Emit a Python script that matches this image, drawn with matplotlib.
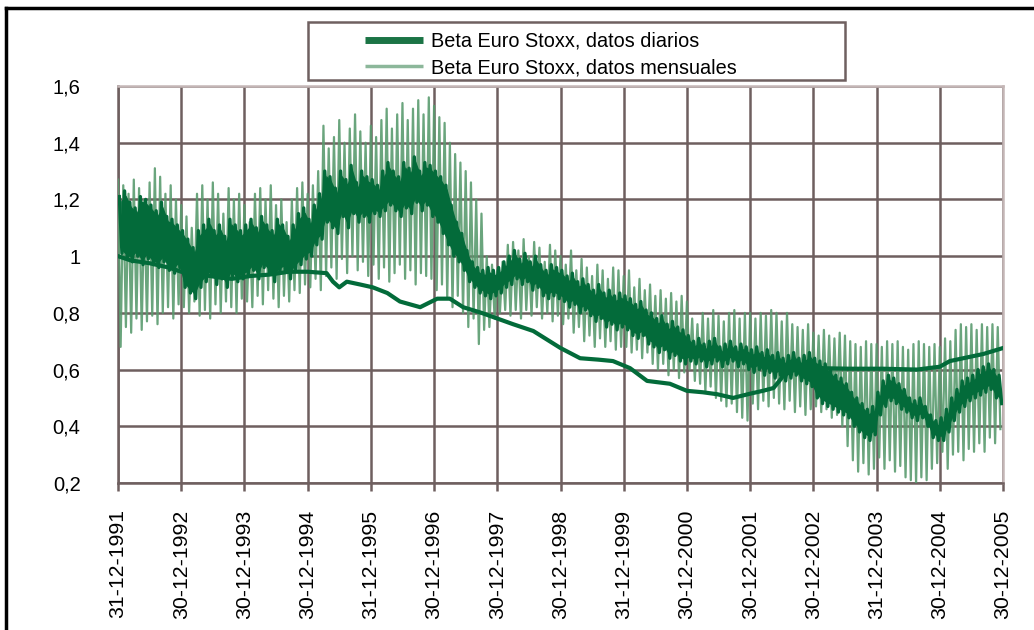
import numpy as np
import matplotlib
matplotlib.use("Agg")
import matplotlib.pyplot as plt
from matplotlib.patches import Rectangle
from matplotlib.lines import Line2D

plt.rcParams['font.family'] = ['Liberation Sans', 'DejaVu Sans']

# ---------------- data ----------------
years = list(range(1992, 2006))
tick_pos = list(range(1992, 2007))
tick_labels = ["31-12-1991", "30-12-1992", "30-12-1993", "30-12-1994", "31-12-1995",
               "30-12-1996", "30-12-1997", "30-12-1998", "31-12-1999", "30-12-2000",
               "30-12-2001", "30-12-2002", "31-12-2003", "30-12-2004", "30-12-2005"]
y_ticks = [0.2, 0.4, 0.6, 0.8, 1.0, 1.2, 1.4, 1.6]
y_labels = ["0,2", "0,4", "0,6", "0,8", "1", "1,2", "1,4", "1,6"]

# monthly beta: upper and lower swings of the oscillating monthly series (one row per year)
monthly_high = [
    [1.27, 1.25, 1.22, 1.27, 1.24, 1.20, 1.26, 1.31, 1.28, 1.22, 1.25, 1.20],
    [1.18, 1.14, 1.10, 1.22, 1.25, 1.20, 1.26, 1.22, 1.15, 1.24, 1.20, 1.22],
    [1.18, 1.12, 1.22, 1.24, 1.20, 1.25, 1.18, 1.20, 1.12, 1.20, 1.24, 1.26],
    [1.22, 1.25, 1.30, 1.46, 1.38, 1.42, 1.48, 1.40, 1.45, 1.50, 1.44, 1.40],
    [1.46, 1.42, 1.48, 1.52, 1.45, 1.50, 1.54, 1.48, 1.52, 1.55, 1.50, 1.56],
    [1.53, 1.49, 1.47, 1.40, 1.36, 1.33, 1.30, 1.26, 1.20, 1.15, 1.00, 0.97],
    [0.95, 0.98, 1.04, 1.05, 1.02, 1.06, 1.00, 1.05, 1.03, 0.98, 1.04, 1.02],
    [1.00, 0.97, 1.02, 0.95, 0.99, 0.96, 0.93, 0.97, 0.95, 0.92, 0.96, 0.95],
    [0.93, 0.95, 0.89, 0.92, 0.88, 0.90, 0.86, 0.88, 0.85, 0.87, 0.84, 0.86],
    [0.84, 0.78, 0.76, 0.80, 0.78, 0.81, 0.79, 0.77, 0.80, 0.81, 0.78, 0.80],
    [0.80, 0.78, 0.80, 0.79, 0.81, 0.80, 0.77, 0.80, 0.76, 0.75, 0.74, 0.76],
    [0.73, 0.72, 0.74, 0.72, 0.71, 0.73, 0.72, 0.70, 0.69, 0.68, 0.70, 0.69],
    [0.69, 0.68, 0.70, 0.69, 0.70, 0.68, 0.67, 0.69, 0.70, 0.69, 0.68, 0.69],
    [0.68, 0.71, 0.70, 0.74, 0.76, 0.75, 0.76, 0.74, 0.76, 0.75, 0.76, 0.75],
]
monthly_low = [
    [0.68, 0.75, 0.73, 0.78, 0.74, 0.77, 0.79, 0.76, 0.80, 0.82, 0.78, 0.83],
    [0.82, 0.80, 0.84, 0.79, 0.81, 0.78, 0.83, 0.80, 0.84, 0.82, 0.80, 0.85],
    [0.84, 0.82, 0.86, 0.83, 0.88, 0.85, 0.82, 0.86, 0.84, 0.88, 0.87, 0.90],
    [0.89, 0.92, 0.88, 0.93, 0.96, 0.92, 0.99, 0.94, 1.00, 0.95, 0.98, 0.93],
    [0.97, 0.92, 0.96, 0.91, 0.94, 0.97, 0.92, 0.95, 0.90, 0.94, 0.93, 0.92],
    [0.88, 0.90, 0.85, 0.82, 0.86, 0.80, 0.75, 0.78, 0.69, 0.74, 0.75, 0.78],
    [0.80, 0.81, 0.79, 0.81, 0.78, 0.81, 0.79, 0.82, 0.78, 0.80, 0.77, 0.79],
    [0.76, 0.78, 0.73, 0.75, 0.70, 0.72, 0.68, 0.71, 0.68, 0.70, 0.67, 0.68],
    [0.68, 0.66, 0.67, 0.64, 0.66, 0.62, 0.60, 0.62, 0.58, 0.60, 0.57, 0.59],
    [0.60, 0.56, 0.55, 0.52, 0.54, 0.50, 0.49, 0.47, 0.48, 0.45, 0.43, 0.42],
    [0.48, 0.46, 0.49, 0.47, 0.50, 0.48, 0.46, 0.49, 0.45, 0.47, 0.44, 0.46],
    [0.47, 0.45, 0.46, 0.43, 0.44, 0.40, 0.33, 0.28, 0.24, 0.27, 0.23, 0.25],
    [0.29, 0.25, 0.28, 0.24, 0.26, 0.22, 0.21, 0.20, 0.22, 0.21, 0.25, 0.27],
    [0.31, 0.25, 0.30, 0.31, 0.28, 0.32, 0.31, 0.34, 0.31, 0.36, 0.34, 0.39],
]

# daily beta (dense band): upper and lower swings per month
daily_high = [
    [1.21, 1.23, 1.19, 1.17, 1.21, 1.20, 1.18, 1.16, 1.19, 1.14, 1.13, 1.11],
    [1.09, 1.06, 1.03, 1.09, 1.11, 1.13, 1.09, 1.11, 1.07, 1.13, 1.11, 1.09],
    [1.11, 1.13, 1.10, 1.14, 1.11, 1.09, 1.13, 1.11, 1.07, 1.11, 1.15, 1.17],
    [1.13, 1.18, 1.22, 1.30, 1.28, 1.24, 1.30, 1.27, 1.32, 1.26, 1.30, 1.28],
    [1.27, 1.25, 1.30, 1.33, 1.30, 1.28, 1.33, 1.31, 1.35, 1.30, 1.33, 1.32],
    [1.30, 1.28, 1.25, 1.18, 1.12, 1.08, 1.02, 0.98, 0.96, 0.95, 0.96, 0.95],
    [0.96, 0.98, 1.00, 1.02, 0.99, 1.01, 0.98, 1.00, 0.97, 0.95, 0.97, 0.96],
    [0.95, 0.93, 0.94, 0.91, 0.92, 0.90, 0.88, 0.90, 0.87, 0.88, 0.86, 0.87],
    [0.86, 0.85, 0.83, 0.84, 0.81, 0.80, 0.78, 0.79, 0.76, 0.77, 0.75, 0.74],
    [0.72, 0.70, 0.71, 0.69, 0.70, 0.71, 0.68, 0.69, 0.70, 0.68, 0.69, 0.68],
    [0.67, 0.68, 0.66, 0.67, 0.65, 0.66, 0.64, 0.65, 0.66, 0.64, 0.65, 0.66],
    [0.64, 0.63, 0.62, 0.60, 0.58, 0.57, 0.55, 0.52, 0.50, 0.48, 0.46, 0.47],
    [0.52, 0.56, 0.58, 0.57, 0.55, 0.53, 0.50, 0.49, 0.50, 0.47, 0.44, 0.42],
    [0.43, 0.46, 0.50, 0.53, 0.56, 0.57, 0.58, 0.60, 0.61, 0.62, 0.60, 0.58],
]
daily_low = [
    [1.01, 0.99, 0.98, 1.00, 0.97, 0.99, 0.97, 0.96, 0.98, 0.95, 0.94, 0.96],
    [0.89, 0.87, 0.85, 0.89, 0.91, 0.93, 0.90, 0.92, 0.89, 0.93, 0.91, 0.92],
    [0.93, 0.95, 0.92, 0.96, 0.94, 0.91, 0.94, 0.95, 0.92, 0.95, 0.97, 0.99],
    [1.00, 1.04, 1.06, 1.12, 1.10, 1.08, 1.14, 1.10, 1.15, 1.12, 1.14, 1.12],
    [1.15, 1.14, 1.16, 1.18, 1.16, 1.14, 1.17, 1.15, 1.19, 1.16, 1.18, 1.14],
    [1.12, 1.08, 1.04, 1.00, 0.98, 0.95, 0.91, 0.89, 0.87, 0.86, 0.85, 0.86],
    [0.87, 0.89, 0.90, 0.92, 0.90, 0.91, 0.88, 0.89, 0.86, 0.85, 0.86, 0.85],
    [0.84, 0.82, 0.83, 0.80, 0.81, 0.79, 0.77, 0.78, 0.75, 0.76, 0.74, 0.75],
    [0.74, 0.72, 0.71, 0.72, 0.69, 0.68, 0.66, 0.67, 0.64, 0.65, 0.63, 0.62],
    [0.63, 0.62, 0.63, 0.61, 0.62, 0.63, 0.61, 0.62, 0.63, 0.61, 0.62, 0.60],
    [0.59, 0.60, 0.58, 0.59, 0.57, 0.58, 0.56, 0.57, 0.58, 0.56, 0.55, 0.54],
    [0.50, 0.48, 0.47, 0.46, 0.45, 0.44, 0.43, 0.40, 0.38, 0.36, 0.35, 0.37],
    [0.44, 0.47, 0.49, 0.48, 0.46, 0.45, 0.43, 0.42, 0.43, 0.40, 0.36, 0.35],
    [0.35, 0.38, 0.42, 0.45, 0.47, 0.49, 0.50, 0.51, 0.52, 0.53, 0.50, 0.48],
]

# smooth long-window beta
smooth_t = [1992.0, 1992.2, 1992.5, 1992.8, 1993.0, 1993.3, 1993.6, 1993.8, 1994.1, 1994.4,
            1994.7, 1995.0, 1995.3, 1995.4, 1995.5, 1995.62, 1995.83, 1996.03, 1996.26, 1996.46,
            1996.78, 1997.05, 1997.25, 1997.46, 1997.75, 1998.0, 1998.25, 1998.57, 1999.0, 1999.31,
            1999.6, 1999.83, 2000.1, 2000.37, 2000.73, 2001.0, 2001.25, 2001.48, 2001.73, 2002.0,
            2002.2, 2002.37, 2002.48, 2002.59, 2003.06, 2003.58, 2004.1, 2004.64, 2005.0, 2005.16,
            2005.69, 2006.0]
smooth_v = [1.00, 0.985, 0.975, 0.96, 0.945, 0.935, 0.925, 0.92, 0.93, 0.935,
            0.945, 0.945, 0.94, 0.91, 0.89, 0.91, 0.90, 0.89, 0.87, 0.84,
            0.82, 0.85, 0.85, 0.82, 0.80, 0.78, 0.76, 0.736, 0.676, 0.64,
            0.635, 0.63, 0.605, 0.56, 0.55, 0.525, 0.52, 0.513, 0.50, 0.515,
            0.525, 0.535, 0.565, 0.60, 0.605, 0.603, 0.603, 0.60, 0.61, 0.63,
            0.655, 0.676]

# ---------------- build series ----------------
def zigzag(high, low, offset):
    h = np.array(high).ravel()
    l = np.array(low).ravel()
    vals = np.empty(h.size * 2)
    vals[0::2] = h
    vals[1::2] = l
    t = years[0] + (np.arange(vals.size) + offset) / 24.0
    return t, vals

t_m, v_m = zigzag(monthly_high, monthly_low, 0.0)
t_d, v_d = zigzag(daily_high, daily_low, 0.5)

# ---------------- figure ----------------
fig = plt.figure(figsize=(10.34, 6.30), dpi=100)
ax = fig.add_axes([118/1034, 1-483/630, (1003-118)/1034, (483-86)/630])

grid_c = '#6e5f5f'
dark_green = '#036b3a'
light_green = '#5a9b6f'

# monthly oscillating series (behind)
ax.plot(t_m, v_m, color=light_green, lw=1.6, alpha=0.9, zorder=3)
# daily band
t_band = years[0] + (np.arange(len(years) * 12) + 0.5) / 12.0
ax.fill_between(t_band, np.array(daily_low).ravel() + 0.015, np.array(daily_high).ravel() - 0.015,
                color=dark_green, lw=0, zorder=4)
ax.plot(t_d, v_d, color=dark_green, lw=2.4, zorder=4)
# smooth line
ax.plot(smooth_t, smooth_v, color=dark_green, lw=3.0, zorder=5)

ax.set_xlim(1992, 2006)
ax.set_ylim(0.2, 1.6)
ax.set_xticks(tick_pos)
ax.set_xticklabels(tick_labels, rotation=90, fontsize=15.3)
ax.set_yticks(y_ticks)
ax.set_yticklabels(y_labels, fontsize=14.5)
ax.grid(True, color=grid_c, lw=1.8, zorder=1)
ax.set_axisbelow(True)
ax.tick_params(axis='x', length=6, width=1.8, color=grid_c, pad=13, direction='out')
ax.tick_params(axis='y', length=0, pad=27)
for s in ['top', 'right']:
    ax.spines[s].set_color('#c4b6b6')
    ax.spines[s].set_linewidth(1.8)
for s in ['left', 'bottom']:
    ax.spines[s].set_color(grid_c)
    ax.spines[s].set_linewidth(1.8)

# legend with wide frame
h1 = Line2D([], [], color='#1b7445', lw=5, solid_capstyle='butt')
h2 = Line2D([], [], color='#8cb79a', lw=2.5, solid_capstyle='butt')
leg = fig.legend([h1, h2], ["Beta Euro Stoxx, datos diarios", "Beta Euro Stoxx, datos mensuales"],
                 loc='upper left', bbox_to_anchor=(351/1034, 1-18/630), frameon=False,
                 fontsize=14.3, handlelength=2.9, handletextpad=0.45, labelspacing=0.38,
                 borderpad=0.2)
fig.patches.append(Rectangle((308/1034, 1-80/630), (845-308)/1034, (80-22)/630,
                             transform=fig.transFigure, fill=False, edgecolor='#6f6060', lw=1.8))

# outer frame (left and top)
fig.add_artist(Line2D([6/1034, 6/1034], [0, 1-8/630], transform=fig.transFigure, color='black', lw=2.5))
fig.add_artist(Line2D([6/1034, 1.0], [1-8/630, 1-8/630], transform=fig.transFigure, color='black', lw=2.5))

fig.savefig('out.png', dpi=100)
